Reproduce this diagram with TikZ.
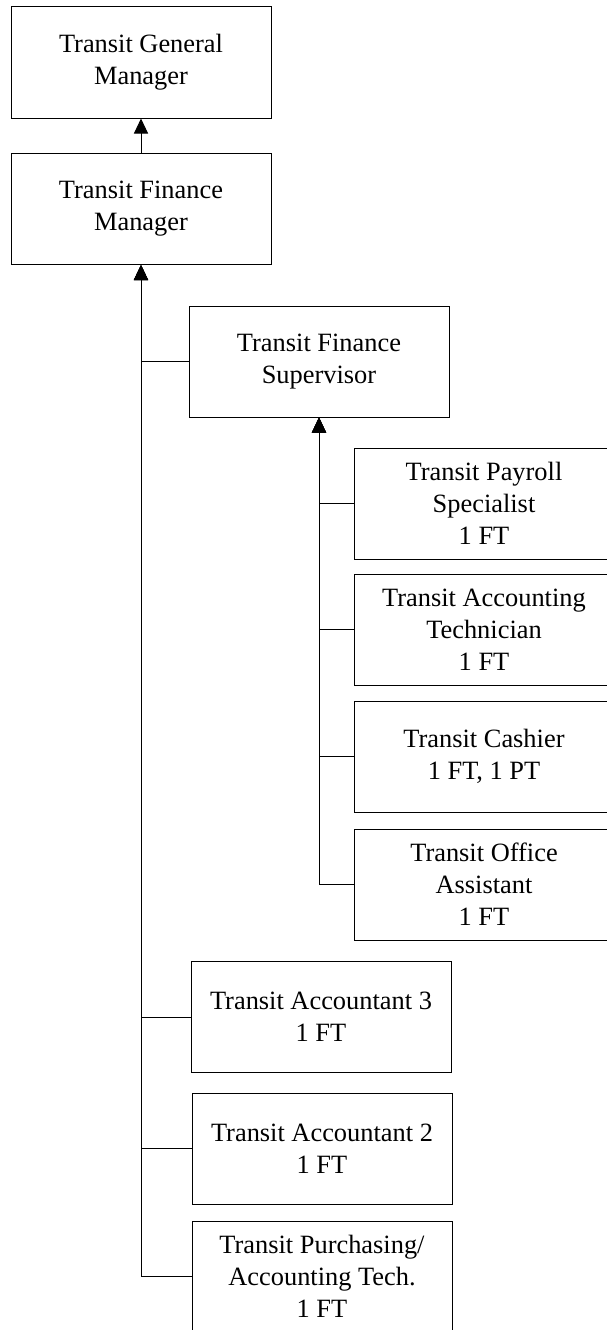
\documentclass[tikz,border=0pt]{standalone}
\usepackage{fontspec}
\setmainfont{Liberation Serif}
\usetikzlibrary{arrows.meta}
\begin{document}
\begin{tikzpicture}[x=1pt,y=-1pt,
  box/.style={draw, line width=1pt, minimum width=260pt, minimum height=111pt,
    inner sep=0pt, align=center, font=\fontsize{26.4}{32}\selectfont},
  link/.style={line width=1pt},
  arr/.style={line width=1pt, -{Triangle[width=14pt,length=15pt]}}]
\useasboundingbox (0,0) rectangle (607,1330);
\clip (0,0) rectangle (607,1330);
\node[box] (gm) at (141,62.5) {Transit General\\Manager};
\node[box] (fm) at (141,209) {Transit Finance\\Manager};
\node[box] (sup) at (319,361.5) {Transit Finance\\Supervisor};
\node[box] (pay) at (484,503.5) {Transit Payroll\\Specialist\\1 FT};
\node[box] (act) at (484,629.5) {Transit Accounting\\Technician\\1 FT};
\node[box] (cash) at (484,756.5) {Transit Cashier\\1 FT, 1 PT};
\node[box] (off) at (484,884.5) {Transit Office\\Assistant\\1 FT};
\node[box] (a3) at (321,1017) {Transit Accountant 3\\1 FT};
\node[box] (a2) at (322,1148.5) {Transit Accountant 2\\1 FT};
\node[box] (pur) at (322,1276.5) {Transit Purchasing/\\Accounting Tech.\\1 FT};
\draw[arr] (fm.north) -- (gm.south);
\foreach \c in {sup,a3,a2,pur} \draw[arr] (\c.west) -| (fm.south);
\foreach \c in {pay,act,cash,off} \draw[arr] (\c.west) -| (sup.south);
\end{tikzpicture}
\end{document}
